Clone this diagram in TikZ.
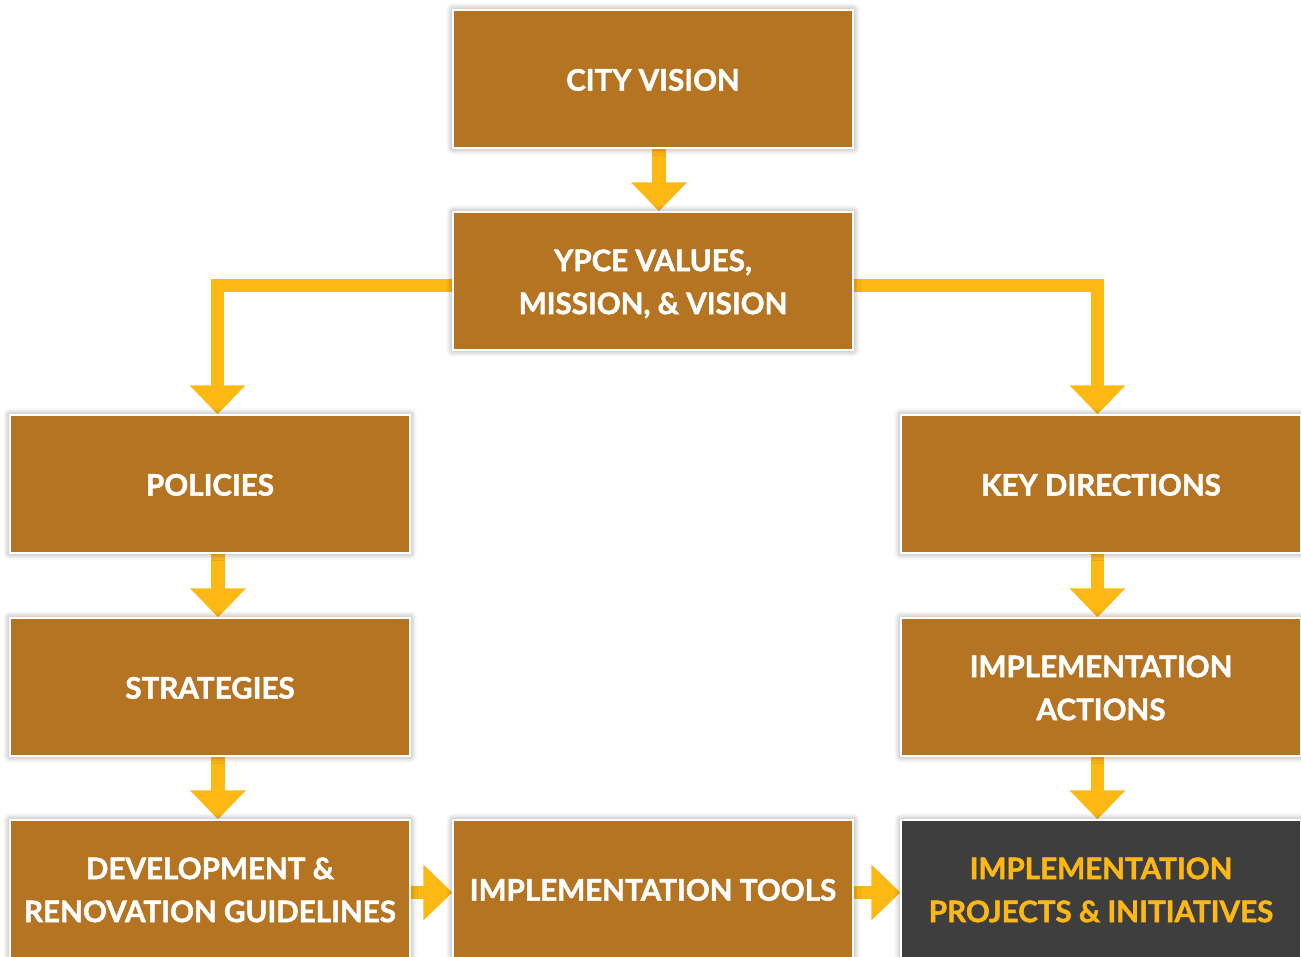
\documentclass[tikz,border=0pt]{standalone}
\usepackage{fontspec}
\setmainfont{Lato}[BoldFeatures={FakeBold=1.6}]
\usetikzlibrary{arrows.meta,shadows.blur,backgrounds}
\definecolor{boxbrown}{RGB}{180,116,34}
\definecolor{arrowyel}{RGB}{253,184,19}
\definecolor{darkbox}{RGB}{62,62,62}
\newcommand{\boxtext}[1]{\raisebox{-3pt}[\height][\depth]{\begin{tabular}{@{}c@{}}#1\end{tabular}}}
\tikzset{
  stagebox/.style={rectangle, fill=boxbrown, draw=white, line width=1.3pt,
    minimum width=400pt, minimum height=138pt, inner sep=0pt,
    text=white,
    font=\fontsize{29.6}{43}\selectfont\bfseries,
    blur shadow={shadow xshift=0pt, shadow yshift=0pt, shadow blur radius=7pt, shadow opacity=45, shadow blur steps=8}},
  darkstage/.style={stagebox, fill=darkbox, text=arrowyel},
  conn/.style={draw=arrowyel, line width=13.5pt, line join=miter, line cap=butt,
    -{Triangle[width=54pt,length=29pt]}, color=arrowyel}
}
\begin{document}
\begin{tikzpicture}[x=1pt,y=-1pt]
\useasboundingbox (0,0) rectangle (1301,956);
\node[stagebox] (cv) at (653,79) {\boxtext{CITY VISION}};
\node[stagebox] (ypce) at (653,281) {\boxtext{YPCE VALUES,\\MISSION, \& VISION}};
\node[stagebox] (pol) at (210,484) {\boxtext{POLICIES}};
\node[stagebox] (kd) at (1101,484) {\boxtext{KEY DIRECTIONS}};
\node[stagebox] (str) at (210,687) {\boxtext{STRATEGIES}};
\node[stagebox] (ia) at (1101,687) {\boxtext{IMPLEMENTATION\\ACTIONS}};
\node[stagebox] (dev) at (210,889) {\boxtext{DEVELOPMENT \&\\RENOVATION GUIDELINES}};
\node[stagebox] (tools) at (653,889) {\boxtext{IMPLEMENTATION TOOLS}};
\node[darkstage] (proj) at (1101,889) {\boxtext{IMPLEMENTATION\\PROJECTS \& INITIATIVES}};
\begin{scope}[on background layer]
\draw[conn] ([xshift=6pt]cv.south) -- ([xshift=6pt]ypce.north);
\draw[conn] ([yshift=-4.5pt]ypce.west) -| ([xshift=7.5pt]pol.north);
\draw[conn] ([yshift=-4.5pt]ypce.east) -| ([xshift=-3.5pt]kd.north);
\draw[conn] ([xshift=8pt]pol.south) -- ([xshift=8pt]str.north);
\draw[conn] ([xshift=-3.5pt]kd.south) -- ([xshift=-3.5pt]ia.north);
\draw[conn] ([xshift=8pt]str.south) -- ([xshift=8pt]dev.north);
\draw[conn] ([xshift=-3.5pt]ia.south) -- ([xshift=-3.5pt]proj.north);
\draw[conn] ([yshift=-3.5pt]dev.east) -- ([yshift=-3.5pt]tools.west);
\draw[conn] ([yshift=-3.5pt]tools.east) -- ([yshift=-3.5pt]proj.west);
\end{scope}
\end{tikzpicture}
\end{document}
